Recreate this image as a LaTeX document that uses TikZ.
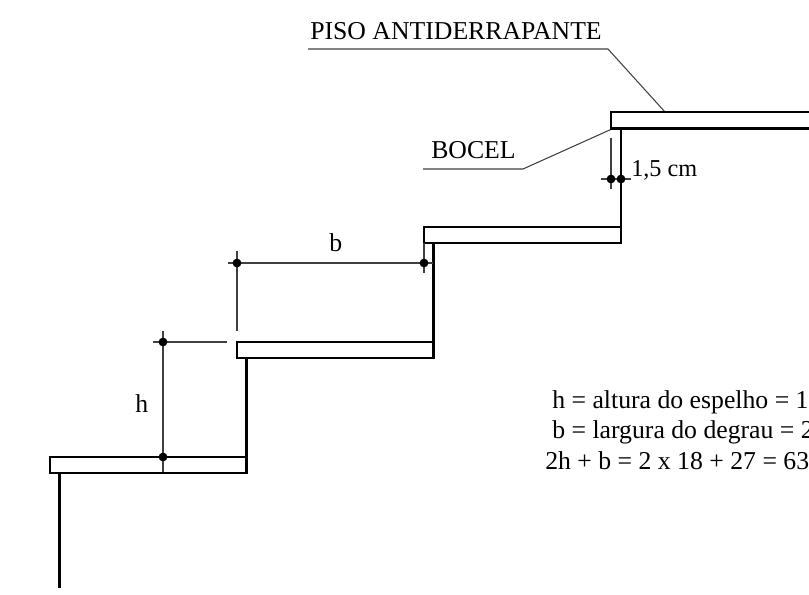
\documentclass[tikz,border=0pt]{standalone}
\usepackage{fontspec}
\setmainfont{Liberation Serif}
\tikzset{
  treadbox/.style={draw=black,line width=1.4pt,line join=miter},
  riser/.style={draw=black,line width=2pt},
  thin line/.style={draw=black!75,line width=0.8pt},
  dimdot/.style={circle,fill=black,inner sep=0pt,minimum size=6.6pt},
  lbl/.style={inner sep=0pt,font=\fontsize{19.3}{19.3}\selectfont,anchor=base west},
  smalllbl/.style={inner sep=0pt,font=\fontsize{18.2}{18.2}\selectfont,anchor=base west}
}
\begin{document}
\begin{tikzpicture}[x=0.75pt,y=-0.75pt]
\useasboundingbox (0,0) rectangle (809,594);
\clip (0,0) rectangle (809,594);
% leader lines
\coordinate (p0) at (308,49); \coordinate (p1) at (608,49); \coordinate (p2) at (665,112);
\coordinate (q0) at (423,169); \coordinate (q1) at (523,169); \coordinate (q2) at (613,128.5);
\draw[thin line] (p0) -- (p1) -- (p2);
\draw[thin line] (q0) -- (q1) -- (q2);
% treads
\draw[treadbox] (820,112.3) -- (611,112.3) -- (611,128.5);
\draw[treadbox] (621,227.3) -- (424,227.3) -- (424,243);
\draw[treadbox] (433.5,342.3) -- (237,342.3) -- (237,358);
\draw[treadbox] (246.5,457) -- (50,457) -- (50,473);
% tread undersides and risers
\draw[riser] (610,128.5) -- (820,128.5);
\draw[riser] (423,243) -- (622,243);
\draw[riser] (236,358) -- (435,358);
\draw[riser] (49,473) -- (248,473);
\draw[riser] (621,128.5) -- (621,243);
\draw[riser] (433.5,243) -- (433.5,358);
\draw[riser] (246.5,358) -- (246.5,473);
\draw[riser] (59.5,473) -- (59.5,588);
% dimension b
\coordinate (b1) at (237,263); \coordinate (b2) at (424,263);
\coordinate (b0) at (228,263); \coordinate (b3) at (433,263);
\coordinate (bt) at (237,251); \coordinate (bb) at (237,331);
\coordinate (ct) at (424,243); \coordinate (cb) at (424,273);
\draw[thin line] (b0) -- (b3);
\draw[thin line] (bt) -- (bb);
\draw[thin line] (ct) -- (cb);
\node[dimdot] (nb1) at (b1) {};
\node[dimdot] (nb2) at (b2) {};
% dimension h
\coordinate (h1) at (163,342); \coordinate (h2) at (163,457);
\coordinate (h0) at (153,342); \coordinate (h3) at (227,342);
\coordinate (vt) at (163,331); \coordinate (vb) at (163,472);
\draw[thin line] (h0) -- (h3);
\draw[thin line] (vt) -- (vb);
\node[dimdot] (nh1) at (h1) {};
\node[dimdot] (nh2) at (h2) {};
% dimension 1,5 cm
\coordinate (e1) at (611,179); \coordinate (e2) at (621,179);
\coordinate (e0) at (601,179); \coordinate (e3) at (631,179);
\coordinate (et) at (611,138); \coordinate (eb) at (611,189);
\draw[thin line] (e0) -- (e3);
\draw[thin line] (et) -- (eb);
\node[dimdot] (ne1) at (e1) {};
\node[dimdot] (ne2) at (e2) {};
% labels
\node[lbl] (piso) at (310,39) {PISO ANTIDERRAPANTE};
\node[lbl] (bocel) at (431,158) {BOCEL};
\node[smalllbl] (cm) at (631,176) {1,5 cm};
\node[lbl] (lb) at (329,251) {b};
\node[lbl] (lh) at (135,412) {h};
\node[lbl] (f1) at (552,408) {h = altura do espelho = 18 cm};
\node[lbl] (f2) at (552,438.5) {b = largura do degrau = 27 cm};
\node[lbl] (f3) at (545,469) {2h + b = 2 x 18 + 27 = 63 cm};
\end{tikzpicture}
\end{document}
